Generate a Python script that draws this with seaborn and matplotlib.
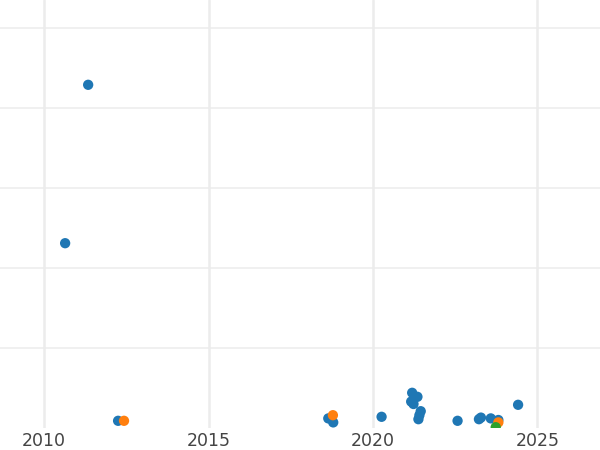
import pandas as pd
import matplotlib
matplotlib.use("Agg")
import matplotlib.pyplot as plt
import seaborn as sns

# values
blue_year = [2011.34, 2010.64, 2012.25, 2018.64, 2018.79, 2020.26, 2021.19, 2021.35,
             2021.16, 2021.23, 2021.45, 2021.41, 2021.38, 2022.57, 2023.22, 2023.28,
             2023.58, 2023.81, 2024.41]
blue_value = [429, 231, 9, 12, 7, 14, 44, 39, 33, 30, 21, 16, 11, 9, 11, 13, 12, 10, 29]
orange_year = [2012.43, 2018.78, 2023.81]
orange_value = [9, 16, 7]
green_year = [2023.73]
green_value = [1]

df = pd.DataFrame({
    "year": blue_year + orange_year + green_year,
    "value": blue_value + orange_value + green_value,
    "group": ["A"] * len(blue_year) + ["B"] * len(orange_year) + ["C"] * len(green_year),
})

sns.set_style("white")
fig = plt.figure(figsize=(6, 4.5), dpi=100)
ax = fig.add_axes([0, 1 - 428 / 450, 1, 428 / 450])

sns.scatterplot(data=df, x="year", y="value", hue="group",
                palette=["#1f77b4", "#ff7f0e", "#2ca02c"],
                s=55, linewidth=0, legend=False, ax=ax, zorder=3)

ax.set_xlim(2008.66, 2026.9)
ax.set_ylim(0, 535)
ax.set_xticks([2010, 2015, 2020, 2025])
ax.set_yticks([100, 200, 300, 400, 500])
ax.set_yticklabels([])
ax.grid(axis="x", color="#ececec", linewidth=1.8)
ax.grid(axis="y", color="#ececec", linewidth=1.1)
ax.set_axisbelow(True)
for sp in ax.spines.values():
    sp.set_visible(False)
ax.tick_params(length=0, labelsize=12.5, labelcolor="#444444", pad=3)
ax.set_xlabel("")
ax.set_ylabel("")

fig.savefig("out.png", dpi=100)
